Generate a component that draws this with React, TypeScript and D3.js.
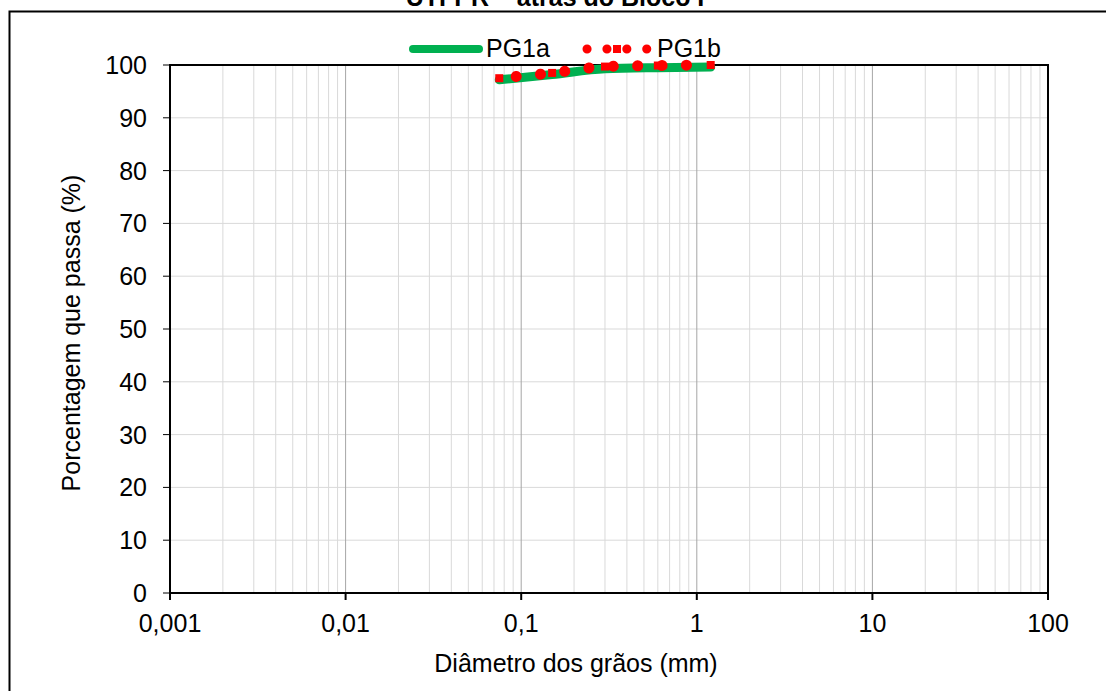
import React from "react";
import * as d3 from "d3";

// Grain-size curves: diameter (mm) vs percentage passing (%)
const diametersA = [0.075, 0.15, 0.3, 0.6, 1.2];
const passingA = [97.2, 98.2, 99.3, 99.5, 99.6];
const diametersB = [0.075, 0.15, 0.3, 0.6, 1.2];
const passingB = [97.5, 98.5, 99.7, 99.9, 100];

const xTickValues = [0.001, 0.01, 0.1, 1, 10, 100];
const xTickLabels = ["0,001", "0,01", "0,1", "1", "10", "100"];
const yTickValues = [0, 10, 20, 30, 40, 50, 60, 70, 80, 90, 100];

const seriesNames = ["PG1a", "PG1b"];
const title = "UTFPR – atrás do Bloco I";
const xTitle = "Diâmetro dos grãos (mm)";
const yTitle = "Porcentagem que passa (%)";

const W = 1106;
const H = 691;
const plot = { left: 170, top: 65, right: 1048, bottom: 593 };
const FONT = "'Liberation Sans', Arial, sans-serif";
const FS = 25;

export default function App() {
  const x = d3.scaleLog().domain([0.001, 100]).range([plot.left, plot.right]);
  const y = d3.scaleLinear().domain([0, 100]).range([plot.bottom, plot.top]);

  // minor gridlines: 2..9 within each decade
  const minor: number[] = [];
  for (let e = -3; e < 2; e++) {
    for (let k = 2; k <= 9; k++) minor.push(k * Math.pow(10, e));
  }

  const line = d3
    .line<[number, number]>()
    .x((d) => x(d[0]))
    .y((d) => y(d[1]))
    .curve(d3.curveMonotoneX);

  const dataA: [number, number][] = diametersA.map((d, i) => [d, passingA[i]]);
  const dataB: [number, number][] = diametersB.map((d, i) => [d, passingB[i]]);

  return (
    <svg
      width={W}
      height={H}
      style={{ position: "absolute", left: 0, top: 0, background: "#fff" }}
      fontFamily={FONT}
    >
      <rect x={0} y={0} width={W} height={H} fill="#fff" />
      {/* chart title, partly above the frame */}
      <text x={555} y={6} textAnchor="middle" fontSize={FS} fontWeight="bold" fill="#000">
        {title}
      </text>
      {/* outer chart frame */}
      <rect x={9.5} y={11.5} width={W + 20} height={H + 20} fill="none" stroke="#000" strokeWidth={2} />

      {/* grid */}
      {yTickValues.map((v) => (
        <line key={"h" + v} x1={plot.left} x2={plot.right} y1={y(v)} y2={y(v)} stroke="#d9d9d9" strokeWidth={1} />
      ))}
      {minor.map((v, i) => (
        <line key={"m" + i} x1={x(v)} x2={x(v)} y1={plot.top} y2={plot.bottom} stroke="#d9d9d9" strokeWidth={1} />
      ))}
      {xTickValues.map((v) => (
        <line key={"M" + v} x1={x(v)} x2={x(v)} y1={plot.top} y2={plot.bottom} stroke="#a6a6a6" strokeWidth={1} />
      ))}

      {/* plot frame */}
      <rect
        x={plot.left}
        y={plot.top}
        width={plot.right - plot.left}
        height={plot.bottom - plot.top}
        fill="none"
        stroke="#000"
        strokeWidth={2}
      />

      {/* y axis ticks & labels */}
      {yTickValues.map((v) => (
        <g key={"yt" + v}>
          <line x1={plot.left - 7} x2={plot.left} y1={y(v)} y2={y(v)} stroke="#000" strokeWidth={1} />
          <text x={plot.left - 23} y={y(v) + 9} textAnchor="end" fontSize={FS} fill="#000">
            {v}
          </text>
        </g>
      ))}
      {/* x axis ticks & labels */}
      {xTickValues.map((v, i) => (
        <g key={"xt" + v}>
          <line x1={x(v)} x2={x(v)} y1={plot.bottom} y2={plot.bottom + 7} stroke="#000" strokeWidth={2} />
          <text x={x(v)} y={plot.bottom + 39} textAnchor="middle" fontSize={FS} fill="#000">
            {xTickLabels[i]}
          </text>
        </g>
      ))}

      {/* axis titles */}
      <text x={576} y={672} textAnchor="middle" fontSize={FS} fill="#000">
        {xTitle}
      </text>
      <text
        transform={`translate(80, 333) rotate(-90)`}
        textAnchor="middle"
        fontSize={FS}
        fill="#000"
      >
        {yTitle}
      </text>

      {/* PG1a: thick green line */}
      <path d={line(dataA) || ""} fill="none" stroke="#00b050" strokeWidth={9} strokeLinecap="round" strokeLinejoin="round" />
      {/* PG1b: red round-dot line with square markers */}
      <path
        d={line(dataB) || ""}
        fill="none"
        stroke="#ff0000"
        strokeWidth={11}
        strokeLinecap="round"
        strokeDasharray="0.1 24.3"
        strokeDashoffset={-17}
      />
      {dataB.map((d, i) => (
        <rect key={"sq" + i} x={x(d[0]) - 4} y={y(d[1]) - 4} width={8} height={8} fill="#ff0000" />
      ))}

      {/* legend */}
      <line x1={413} x2={479} y1={49} y2={49} stroke="#00b050" strokeWidth={8} strokeLinecap="round" />
      <text x={486} y={57} fontSize={FS} fill="#000">
        {seriesNames[0]}
      </text>
      <line
        x1={587}
        x2={649}
        y1={49}
        y2={49}
        stroke="#ff0000"
        strokeWidth={9}
        strokeLinecap="round"
        strokeDasharray="0.1 19.8"
      />
      <rect x={613} y={45} width={8} height={8} fill="#ff0000" />
      <text x={657} y={57} fontSize={FS} fill="#000">
        {seriesNames[1]}
      </text>
    </svg>
  );
}
